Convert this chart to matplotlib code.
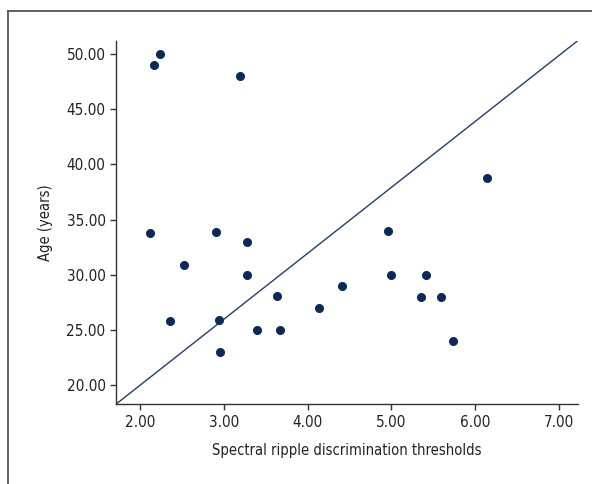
import numpy as np
import matplotlib
matplotlib.use("Agg")
import matplotlib.pyplot as plt
from matplotlib.lines import Line2D

plt.rcParams['font.family'] = ['DejaVu Sans']
plt.rcParams['font.stretch'] = 'condensed'

# spectral ripple thresholds and age of each listener
thresholds = [2.16, 2.23, 3.19, 6.15, 2.12, 2.91, 4.96, 3.27, 2.52, 3.27, 5.00, 5.41,
              3.64, 5.35, 5.59, 4.41, 4.14, 2.35, 2.94, 3.39, 3.67, 2.95, 5.74]
ages = [49, 50, 48, 38.8, 33.8, 33.9, 34, 33, 30.9, 30, 30, 30,
        28.1, 28, 28, 29, 27, 25.8, 25.9, 25, 25, 23, 24]

x_ticks = [2, 3, 4, 5, 6, 7]
y_ticks = [20, 25, 30, 35, 40, 45, 50]
x_lim = (1.71, 7.23)
y_lim = (18.3, 51.2)

fig = plt.figure(figsize=(5.92, 4.84), dpi=100)

# outer frame (cropped at right and bottom)
fig.add_artist(Line2D([8/592, 1], [1 - 11/484, 1 - 11/484], color='#555555', lw=1.3))
fig.add_artist(Line2D([8/592, 8/592], [0, 1 - 11/484], color='#555555', lw=1.3))

ax = fig.add_axes([0.196, 0.165, 0.780, 0.751])
ax.plot(x_lim, y_lim, color='#1f3f6e', lw=1.0, zorder=2)  # corner-to-corner reference line
ax.plot(thresholds, ages, 'o', color='#0a2a5c', markersize=5.5, zorder=3)

ax.set_xlim(*x_lim)
ax.set_ylim(*y_lim)
ax.set_xticks(x_ticks)
ax.set_yticks(y_ticks)
ax.set_xticklabels([f'{v:.2f}' for v in x_ticks])
ax.set_yticklabels([f'{v:.2f}' for v in y_ticks])

for s in ['top', 'right']:
    ax.spines[s].set_visible(False)
for s in ['left', 'bottom']:
    ax.spines[s].set_color('#333333')
    ax.spines[s].set_linewidth(1.0)
ax.tick_params(direction='out', length=4.5, width=1.0, color='#333333',
               labelsize=11, labelcolor='#222222', pad=3)

ax.set_xlabel('Spectral ripple discrimination thresholds', fontsize=10.5, color='#222222', labelpad=10)
ax.set_ylabel('Age (years)', fontsize=10.5, color='#222222', labelpad=10)

fig.savefig('out.png', dpi=100)
